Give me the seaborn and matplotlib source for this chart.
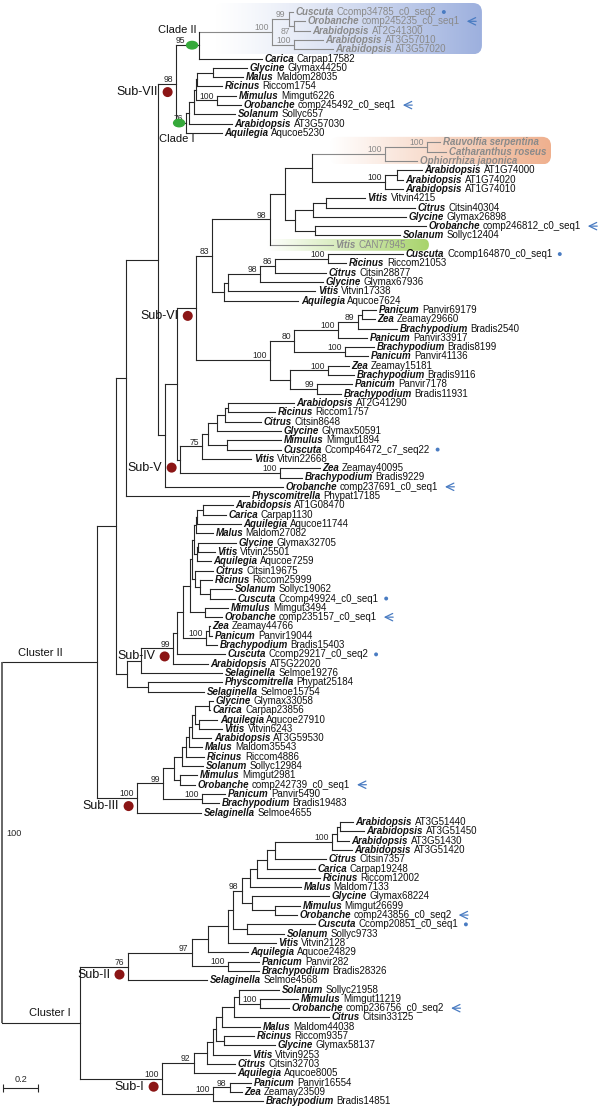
import numpy as np
import pandas as pd
import matplotlib
matplotlib.use("Agg")
import matplotlib.pyplot as plt
import matplotlib.colors as mcolors
import seaborn as sns
from matplotlib.patches import FancyBboxPatch, Ellipse
from matplotlib.transforms import IdentityTransform
from matplotlib.font_manager import FontProperties

# ------------------------------------------------------------------ data
GENUS = ["Cuscuta", "Orobanche", "Arabidopsis", "Arabidopsis", "Arabidopsis", "Carica", "Glycine", "Malus",
         "Ricinus", "Mimulus", "Orobanche", "Solanum", "Arabidopsis", "Aquilegia",
         "Rauvolfia serpentina", "Catharanthus roseus", "Ophiorrhiza japonica", "Arabidopsis", "Arabidopsis",
         "Arabidopsis", "Vitis", "Citrus", "Glycine", "Orobanche", "Solanum", "Vitis", "Cuscuta", "Ricinus",
         "Citrus", "Glycine", "Vitis", "Aquilegia", "Panicum", "Zea", "Brachypodium", "Panicum", "Brachypodium",
         "Panicum", "Zea", "Brachypodium", "Panicum", "Brachypodium",
         "Arabidopsis", "Ricinus", "Citrus", "Glycine", "Mimulus", "Cuscuta", "Vitis", "Zea", "Brachypodium",
         "Orobanche", "Physcomitrella",
         "Arabidopsis", "Carica", "Aquilegia", "Malus", "Glycine", "Vitis", "Aquilegia", "Citrus", "Ricinus",
         "Solanum", "Cuscuta", "Mimulus", "Orobanche", "Zea", "Panicum", "Brachypodium", "Cuscuta",
         "Arabidopsis", "Selaginella", "Physcomitrella", "Selaginella",
         "Glycine", "Carica", "Aquilegia", "Vitis", "Arabidopsis", "Malus", "Ricinus", "Solanum", "Mimulus",
         "Orobanche", "Panicum", "Brachypodium", "Selaginella",
         "Arabidopsis", "Arabidopsis", "Arabidopsis", "Arabidopsis", "Citrus", "Carica", "Ricinus", "Malus",
         "Glycine", "Mimulus", "Orobanche", "Cuscuta", "Solanum", "Vitis", "Aquilegia", "Panicum",
         "Brachypodium", "Selaginella",
         "Solanum", "Mimulus", "Orobanche", "Citrus", "Malus", "Ricinus", "Glycine", "Vitis", "Citrus",
         "Aquilegia", "Panicum", "Zea", "Brachypodium"]

SEQ_ID = ["Ccomp34785_c0_seq2", "comp245235_c0_seq1", "AT2G41300", "AT3G57010", "AT3G57020", "Carpap17582",
          "Glymax44250", "Maldom28035", "Riccom1754", "Mimgut6226", "comp245492_c0_seq1", "Sollyc657",
          "AT3G57030", "Aqucoe5230",
          "", "", "", "AT1G74000", "AT1G74020", "AT1G74010", "Vitvin4215", "Citsin40304", "Glymax26898",
          "comp246812_c0_seq1", "Sollyc12404", "CAN77945", "Ccomp164870_c0_seq1", "Riccom21053",
          "Citsin28877", "Glymax67936", "Vitvin17338", "Aqucoe7624", "Panvir69179", "Zeamay29660",
          "Bradis2540", "Panvir33917", "Bradis8199", "Panvir41136", "Zeamay15181", "Bradis9116",
          "Panvir7178", "Bradis11931",
          "AT2G41290", "Riccom1757", "Citsin8648", "Glymax50591", "Mimgut1894", "Ccomp46472_c7_seq22",
          "Vitvin22668", "Zeamay40095", "Bradis9229", "comp237691_c0_seq1", "Phypat17185",
          "AT1G08470", "Carpap1130", "Aqucoe11744", "Maldom27082", "Glymax32705", "Vitvin25501",
          "Aqucoe7259", "Citsin19675", "Riccom25999", "Sollyc19062", "Ccomp49924_c0_seq1", "Mimgut3494",
          "comp235157_c0_seq1", "Zeamay44766", "Panvir19044", "Bradis15403", "Ccomp29217_c0_seq2",
          "AT5G22020", "Selmoe19276", "Phypat25184", "Selmoe15754",
          "Glymax33058", "Carpap23856", "Aqucoe27910", "Vitvin6243", "AT3G59530", "Maldom35543",
          "Riccom4886", "Sollyc12984", "Mimgut2981", "comp242739_c0_seq1", "Panvir5490", "Bradis19483",
          "Selmoe4655",
          "AT3G51440", "AT3G51450", "AT3G51430", "AT3G51420", "Citsin7357", "Carpap19248", "Riccom12002",
          "Maldom7133", "Glymax68224", "Mimgut26699", "comp243856_c0_seq2", "Ccomp20851_c0_seq1",
          "Sollyc9733", "Vitvin2128", "Aqucoe24829", "Panvir282", "Bradis28326", "Selmoe4568",
          "Sollyc21958", "Mimgut11219", "comp236756_c0_seq2", "Citsin33125", "Maldom44038", "Riccom9357",
          "Glymax58137", "Vitvin9253", "Citsin32703", "Aqucoe8005", "Panvir16554", "Zeamay23509",
          "Bradis14851"]

# Newick pieces (leaf tokens are row indices, internal labels are bootstrap values)
SUB_VII = ("((((0:0.023,(1:0.063,2:0.091)87:0.029)99:0.097,(3:0.166,4:0.223)100:0.126)100:0.417,5:0.360)95:0.131,"
           "((((((6:0.194,7:0.171):0.091,8:0.143):0.006,(9:0.109,10:0.137)100:0.120):0.011,11:0.234):0.029,"
           "12:0.246):0.017,13:0.206)76:0.057)98:0.103")
SUB_VI_A = ("(((((14:0.074,15:0.109)100:0.240,16:0.183)100:0.417,((17:0.143,18:0.034):0.069,19:0.103)100:0.417):0.154,"
            "(((20:0.223,21:0.510):0.074,22:0.531):0.103,(23:0.634,24:0.486):0.114):0.057):0.086,25:0.360)98:0.331")
SUB_VI_B = "(((((26:0.429,27:0.103)100:0.303,28:0.291)86:0.086,29:0.360)98:0.183,30:0.497):0.023,31:0.423):0.069"
SUB_VI_C = ("(((((32:0.080,33:0.074):0.023,34:0.223)89:0.114,35:0.166)100:0.251,(36:0.166,37:0.131)100:0.291)80:0.137,"
            "((38:0.120,39:0.149)100:0.217,(40:0.200,41:0.137)99:0.154):0.114)100:0.423")
SUB_VI = "((" + SUB_VI_A + "," + SUB_VI_B + ")83:0.091," + SUB_VI_C + "):0.109"
SUB_V = ("((((((42:0.377,43:0.269):0.017,44:0.206):0.046,45:0.366):0.051,(46:0.309,47:0.309):0.109):0.034,"
         "48:0.280)75:0.126,(49:0.229,50:0.126)100:0.571):0.017")
SUB_IV = ("(((((((((53:0.171,54:0.131):0.034,55:0.251):0.006,56:0.097):0.011,((57:0.217,58:0.097):0.006,"
          "59:0.080):0.017):0.011,(60:0.103,(61:0.069,(62:0.126,63:0.143):0.057):0.029):0.017):0.011,"
          "(64:0.131,65:0.097):0.086):0.040,((66:0.006,67:0.017):0.017,68:0.063)100:0.131):0.034,"
          "69:0.274):0.023,70:0.200)99:0.183")
SUB_III = ("(((((((((74:0.023,75:0.006):0.080,(76:0.103,77:0.131):0.023):0.017,78:0.109):0.017,79:0.074):0.017,"
           "80:0.103):0.023,81:0.120):0.046,(82:0.097,83:0.086):0.034):0.063,(84:0.131,85:0.097)100:0.223)99:0.149,"
           "86:0.366)100:0.229")
SUB_II = ("(((((((((((((87:0.074,88:0.137):0.017,89:0.069):0.029,90:0.114)100:0.326,91:0.291):0.046,92:0.274):0.057,"
          "93:0.360):0.040,94:0.291):0.046,(95:0.440,(96:0.143,97:0.126):0.131):0.057)98:0.051,"
          "(98:0.389,99:0.211):0.080):0.029,100:0.274):0.114,101:0.229):0.091,(102:0.177,103:0.177)100:0.206)97:0.366,"
          "104:0.451)76:0.274")
SUB_I = ("((((((((105:0.229,(106:0.217,107:0.166)100:0.120):0.029,108:0.543):0.069,109:0.217):0.034,"
         "(110:0.171,111:0.291):0.046):0.017,112:0.211):0.034,113:0.160):0.074,114:0.234)92:0.183,"
         "((115:0.120,116:0.069)98:0.097,117:0.286)100:0.291)100:0.469")

UPPER = "((" + SUB_VII + ",((" + SUB_VI + "," + SUB_V + "):0.069,51:0.674):0.040):0.183,52:0.703):0.057"
LOWER = "((" + SUB_IV + ",71:0.463):0.080,(72:0.423,73:0.320):0.120):0.063"
CLUSTER_II = "((" + UPPER + "," + LOWER + "):0.109," + SUB_III + "):0.543"
CLUSTER_I = "(" + SUB_II + "," + SUB_I + "):0.446"
TREE = "(" + CLUSTER_II + "," + CLUSTER_I + ")100;"

GREY_LEAVES = [0, 1, 2, 3, 4, 14, 15, 16, 25]
SUBFAMILIES = ["Sub-VII", "Sub-VI", "Sub-V", "Sub-IV", "Sub-III", "Sub-II", "Sub-I"]
SUBFAMILY_SPANS = [(0, 13), (14, 41), (42, 50), (53, 70), (74, 86), (87, 104), (105, 117)]
CLADES = ["Clade II", "Clade I"]
CLADE_SPANS = [(0, 5), (6, 13)]
CLUSTERS = ["Cluster II", "Cluster I"]
CLUSTER_SPANS = [(0, 86), (87, 117)]
HIGHLIGHT_SPANS = [(0, 4), (14, 16), (25, 25)]
SCALE_BAR = 0.2

assert len(GENUS) == len(SEQ_ID) == 118

# ------------------------------------------------------------------ style / geometry
W, H = 600, 1109
PX_PER_UNIT = 175.0
ROW_PX = 9.31
TOP_PX = 12.0
ROOT_PX = 2.0
INK = "#262626"
GREY = "#8a8a8a"
BLUE = "#4a7cc2"
RED = "#8b1515"
GREEN = "#35a93a"
LEAF_FS = 7.0
SUP_FS = 6.2

sns.set_theme(style="white")
plt.rcParams["font.family"] = ["Liberation Sans", "DejaVu Sans"]


def dx(p):
    return p / PX_PER_UNIT


def dy(p):
    return p / ROW_PX


# ------------------------------------------------------------------ parse & layout
def parse_newick(s):
    s = "".join(s.split()).rstrip(";")
    pos = 0

    def node():
        nonlocal pos
        n = {"children": [], "label": "", "bl": 0.0}
        if s[pos] == "(":
            pos += 1
            while True:
                n["children"].append(node())
                if s[pos] == ",":
                    pos += 1
                    continue
                if s[pos] == ")":
                    pos += 1
                    break
        st = pos
        while pos < len(s) and s[pos] not in ":,)":
            pos += 1
        n["label"] = s[st:pos]
        if pos < len(s) and s[pos] == ":":
            pos += 1
            st = pos
            while pos < len(s) and s[pos] not in ",)":
                pos += 1
            n["bl"] = float(s[st:pos])
        return n

    r = node()
    assert pos == len(s), "unparsed tail"
    return r


root = parse_newick(TREE)
nodes = []
counter = [0]


def layout(n, px):
    n["x"] = px + n["bl"]
    n["px"] = px
    if n["children"]:
        lv = []
        for c in n["children"]:
            layout(c, n["x"])
            lv += c["leaves"]
        n["leaves"] = lv
        n["y"] = (n["children"][0]["y"] + n["children"][-1]["y"]) / 2.0
    else:
        idx = int(n["label"])
        assert idx == counter[0], (idx, counter[0])
        counter[0] += 1
        n["leaves"] = [idx]
        n["y"] = float(idx)
    nodes.append(n)


layout(root, 0.0)
leaf_nodes = {n["leaves"][0]: n for n in nodes if not n["children"]}
grey_set = set(GREY_LEAVES)


def is_grey(n):
    return all(l in grey_set for l in n["leaves"])


def find(span):
    lo, hi = span
    for n in nodes:
        lv = n["leaves"]
        if min(lv) == lo and max(lv) == hi and len(lv) == hi - lo + 1:
            return n
    raise KeyError(span)


# ------------------------------------------------------------------ figure
fig = plt.figure(figsize=(W / 100, H / 100), dpi=100)
ax = fig.add_axes([0, 0, 1, 1])
XLIM = (-dx(ROOT_PX), dx(W - ROOT_PX))
YLIM = (dy(H - TOP_PX), -dy(TOP_PX))
ax.set_xlim(*XLIM)
ax.set_ylim(*YLIM)
ax.set_autoscale_on(False)
ax.axis("off")
renderer = fig.canvas.get_renderer()

bi = FontProperties(family=["Liberation Sans", "DejaVu Sans"], weight="bold", style="italic", size=LEAF_FS)
rg = FontProperties(family=["Liberation Sans", "DejaVu Sans"], size=LEAF_FS)


def text_w(s, prop):
    if not s:
        return 0.0
    w, h, d = renderer.get_text_width_height_descent(s, prop, ismath=False)
    return w


label_end = {}
label_parts = []
SPACE_PX = 0.278 * LEAF_FS * 100 / 72
for i in range(len(GENUS)):
    ln = leaf_nodes[i]
    x0 = ln["x"] + dx(2.5)
    wg = text_w(GENUS[i], bi)
    x1 = x0 + dx(wg + SPACE_PX)
    wi = text_w(SEQ_ID[i], rg)
    end = x1 + dx(wi) if SEQ_ID[i] else x0 + dx(wg)
    label_end[i] = end
    label_parts.append((x0, x1, i))


# ------------------------------------------------------------------ highlight boxes
def gradient_box(x0, x1, ytop, ybot, color, rounding, power):
    (X0, Yt) = ax.transData.transform((x0, ytop))
    (X1, Yb) = ax.transData.transform((x1, ybot))
    patch = FancyBboxPatch((X0, Yb), X1 - X0, Yt - Yb,
                           boxstyle=f"round,pad=0,rounding_size={rounding}",
                           transform=IdentityTransform(), facecolor="none", edgecolor="none")
    t = np.linspace(0, 1, 256) ** power
    rgb = mcolors.to_rgb(color)
    img = np.ones((2, 256, 4))
    for k in range(3):
        img[:, :, k] = 1 - t * (1 - rgb[k])
    im = ax.imshow(img, extent=(x0, x1, ybot, ytop), aspect="auto", interpolation="bilinear", zorder=0)
    im.set_clip_path(patch)


hl_colors = ["#9db0de", "#efb08e", "#a8d46c"]
hl_left_px = [16, 18, -3]
hl_right_px = [22, 5, 23]
hl_pad = [(9, 5), (5.5, 3.5), (6, 6)]
hl_power = [1.2, 1.0, 1.0]
hl_round = [9, 9, 6]
for k, span in enumerate(HIGHLIGHT_SPANS):
    cl = find(span)
    left = cl["px"] + dx(hl_left_px[k])
    right = max(label_end[i] for i in range(span[0], span[1] + 1)) + dx(hl_right_px[k])
    gradient_box(left, right, span[0] - dy(hl_pad[k][0]), span[1] + dy(hl_pad[k][1]),
                 hl_colors[k], hl_round[k], hl_power[k])

# ------------------------------------------------------------------ branches
h_df = []
v_df = []
for n in nodes:
    col = GREY if is_grey(n) else INK
    if n is not root:
        h_df.append({"x0": n["px"], "x1": n["x"], "y": n["y"], "c": col})
    if n["children"] and n is not root:
        v_df.append({"x": n["x"], "y0": n["children"][0]["y"], "y1": n["children"][-1]["y"], "c": col})
h_df = pd.DataFrame(h_df)
v_df = pd.DataFrame(v_df)
for c, g in h_df.groupby("c"):
    ax.hlines(g["y"], g["x0"], g["x1"], colors=c, lw=0.8, capstyle="projecting", zorder=2)
for c, g in v_df.groupby("c"):
    ax.vlines(g["x"], g["y0"], g["y1"], colors=c, lw=0.8, capstyle="projecting", zorder=2)
ax.vlines(root["x"], root["children"][0]["y"], root["children"][-1]["y"], colors="#5a5a5a", lw=1.3, zorder=2)

# ------------------------------------------------------------------ leaf labels
cus_x, cus_y = [], []
for (x0, x1, i) in label_parts:
    col = GREY if i in grey_set else "#111111"
    ax.text(x0, i, GENUS[i], fontproperties=bi, color=col, va="center", ha="left", zorder=4)
    if SEQ_ID[i]:
        ax.text(x1, i, SEQ_ID[i], fontproperties=rg, color=col, va="center", ha="left", zorder=4)
    if GENUS[i] == "Cuscuta":
        cus_x.append(label_end[i] + dx(7.5))
        cus_y.append(i)
    if GENUS[i] == "Orobanche":
        ax.annotate("", xy=(label_end[i] + dx(4), i), xytext=(label_end[i] + dx(19), i),
                    arrowprops=dict(arrowstyle="->,head_length=0.45,head_width=0.22", color=BLUE, lw=0.9),
                    zorder=4)
sns.scatterplot(x=cus_x, y=cus_y, s=8, color=BLUE, edgecolor="none", ax=ax, legend=False, zorder=5)

# ------------------------------------------------------------------ support values
below = {(1, 2)}
extra_dx = {(0, 5): -10}
for n in nodes:
    if not n["children"] or not n["label"] or n is root:
        continue
    span = (min(n["leaves"]), max(n["leaves"]))
    col = GREY if is_grey(n) else INK
    xx = n["x"] - dx(3.5 - extra_dx.get(span, 0))
    if span in below:
        ax.text(xx, n["y"] + dy(1.0), n["label"], fontsize=SUP_FS, color=col, ha="right", va="top", zorder=4)
    else:
        ax.text(xx, n["y"] - dy(1.8), n["label"], fontsize=SUP_FS, color=col, ha="right", va="baseline",
                zorder=4)
ax.text(root["x"] + dx(4), root["y"] - dy(9), root["label"], fontsize=6.6, color=INK, ha="left", va="center")

# ------------------------------------------------------------------ subfamily markers
sub_x, sub_y = [], []
for name, span in zip(SUBFAMILIES, SUBFAMILY_SPANS):
    n = find(span)
    mx, my = n["x"] - dx(8.5), n["y"] + dy(8)
    sub_x.append(mx)
    sub_y.append(my)
    ax.text(mx - dx(9.5), my, name, fontsize=9, color="#111111", ha="right", va="center", zorder=4)
sns.scatterplot(x=sub_x, y=sub_y, s=52, color=RED, edgecolor="none", ax=ax, legend=False, zorder=6)

# ------------------------------------------------------------------ clades
clade_label_off = [(-22, -15), (-9, 16.5)]
for name, span, off in zip(CLADES, CLADE_SPANS, clade_label_off):
    n = find(span)
    ax.add_patch(Ellipse((n["x"] - dx(7), n["y"]), width=dx(11), height=dy(7.5), color=GREEN, zorder=6))
    ax.text(n["x"] + dx(off[0]), n["y"] + dy(off[1]), name, fontsize=8, color="#111111",
            ha="center", va="center", zorder=4)

# ------------------------------------------------------------------ clusters
cluster_cx = [40, 50]
for name, span, cx in zip(CLUSTERS, CLUSTER_SPANS, cluster_cx):
    n = find(span)
    ax.text(dx(cx - ROOT_PX), n["y"] - dy(4.2), name, fontsize=8, color="#111111", ha="center", va="bottom")

# ------------------------------------------------------------------ scale bar
sb_y = dy(1088 - TOP_PX)
sb_x0 = dx(1.5)
ax.hlines(sb_y, sb_x0, sb_x0 + SCALE_BAR, colors=INK, lw=0.8)
ax.vlines([sb_x0, sb_x0 + SCALE_BAR], sb_y - dy(4), sb_y + dy(4), colors=INK, lw=0.8)
ax.text(sb_x0 + SCALE_BAR / 2, sb_y - dy(4.5), f"{SCALE_BAR:g}", fontsize=6.6, color=INK,
        ha="center", va="bottom")

ax.set_xlim(*XLIM)
ax.set_ylim(*YLIM)
fig.savefig("out.png", dpi=100, facecolor="white")
